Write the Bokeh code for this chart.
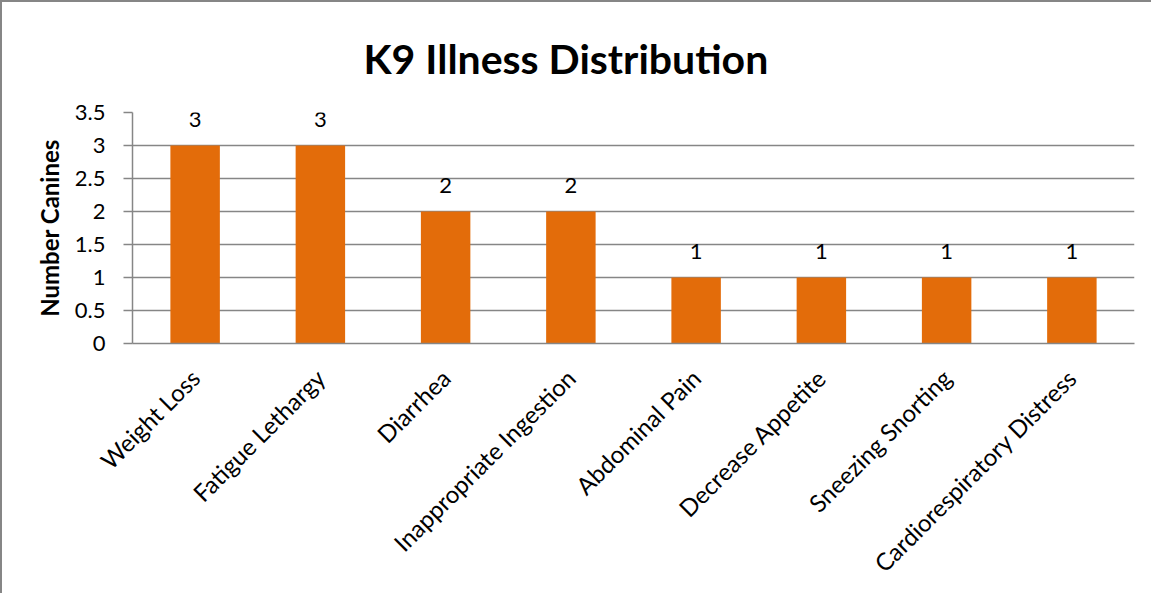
import math
from bokeh.plotting import figure
from bokeh.models import ColumnDataSource, LabelSet, FactorRange, Range1d, FixedTicker, NumeralTickFormatter
from bokeh.core.properties import value
from bokeh.embed import file_html
from bokeh.resources import INLINE

categories = ["Weight Loss", "Fatigue Lethargy", "Diarrhea", "Inappropriate Ingestion",
              "Abdominal Pain", "Decrease Appetite", "Sneezing Snorting", "Cardiorespiratory Distress"]
counts = [3, 3, 2, 2, 1, 1, 1, 1]
y_ticks = [0, 0.5, 1, 1.5, 2, 2.5, 3, 3.5]
title_text = "K9 Illness Distribution"
y_title = "Number Canines"

FONT = "Lato"
GRAY = "#868686"
ORANGE = "#E36C0A"

src = ColumnDataSource(dict(cat=categories, val=counts, lbl=[str(v) for v in counts]))

p = figure(x_range=FactorRange(*categories), y_range=Range1d(0, 3.5),
           width=1151, height=593, output_backend="svg", toolbar_location=None,
           title=title_text, min_border_left=130, min_border_right=19,
           min_border_top=110, min_border_bottom=252)
p.styles = {"border-left": "2px solid " + GRAY, "border-top": "2px solid " + GRAY}

p.vbar(x="cat", top="val", width=0.395, source=src, fill_color=ORANGE, line_color=None)

labels = LabelSet(x="cat", y="val", text="lbl", source=src, y_offset=26,
                  text_align="center", text_baseline="middle",
                  text_font=value(FONT), text_font_size="22px", text_color="black")
p.add_layout(labels)

p.title.text_font = FONT
p.title.text_font_size = "41px"
p.title.text_font_style = "bold"
p.title.align = "left"
p.title.offset = 231
p.title.text_color = "black"
p.title.standoff = 59

p.outline_line_color = None
p.background_fill_color = "white"
p.border_fill_color = "white"

p.xgrid.grid_line_color = None
p.ygrid.grid_line_color = GRAY
p.ygrid.grid_line_width = 1.5
p.ygrid.ticker = FixedTicker(ticks=y_ticks)

p.yaxis.ticker = FixedTicker(ticks=y_ticks)
p.yaxis.formatter = NumeralTickFormatter(format="0.[0]")
p.yaxis.axis_line_color = GRAY
p.yaxis.axis_line_width = 1.5
p.yaxis.major_tick_line_color = GRAY
p.yaxis.major_tick_line_width = 1.5
p.yaxis.major_tick_out = 9
p.yaxis.major_tick_in = 0
p.yaxis.minor_tick_line_color = None
p.yaxis.major_label_standoff = 18
p.yaxis.major_label_text_font = FONT
p.yaxis.major_label_text_font_size = "22px"
p.yaxis.major_label_text_color = "black"
p.yaxis.axis_label = y_title
p.yaxis.axis_label_text_font = FONT
p.yaxis.axis_label_text_font_size = "24px"
p.yaxis.axis_label_text_font_style = "bold"
p.yaxis.axis_label_text_color = "black"
p.yaxis.axis_label_standoff = 8

p.xaxis.axis_line_color = GRAY
p.xaxis.axis_line_width = 1.5
p.xaxis.major_tick_line_color = None
p.xaxis.major_tick_out = 0
p.xaxis.major_tick_in = 0
p.xaxis.major_label_orientation = math.pi / 4
p.xaxis.major_label_standoff = 30
p.xaxis.major_label_text_font = FONT
p.xaxis.major_label_text_font_size = "24px"
p.xaxis.major_label_text_color = "black"

open("out.html", "w").write(file_html(p, INLINE))
